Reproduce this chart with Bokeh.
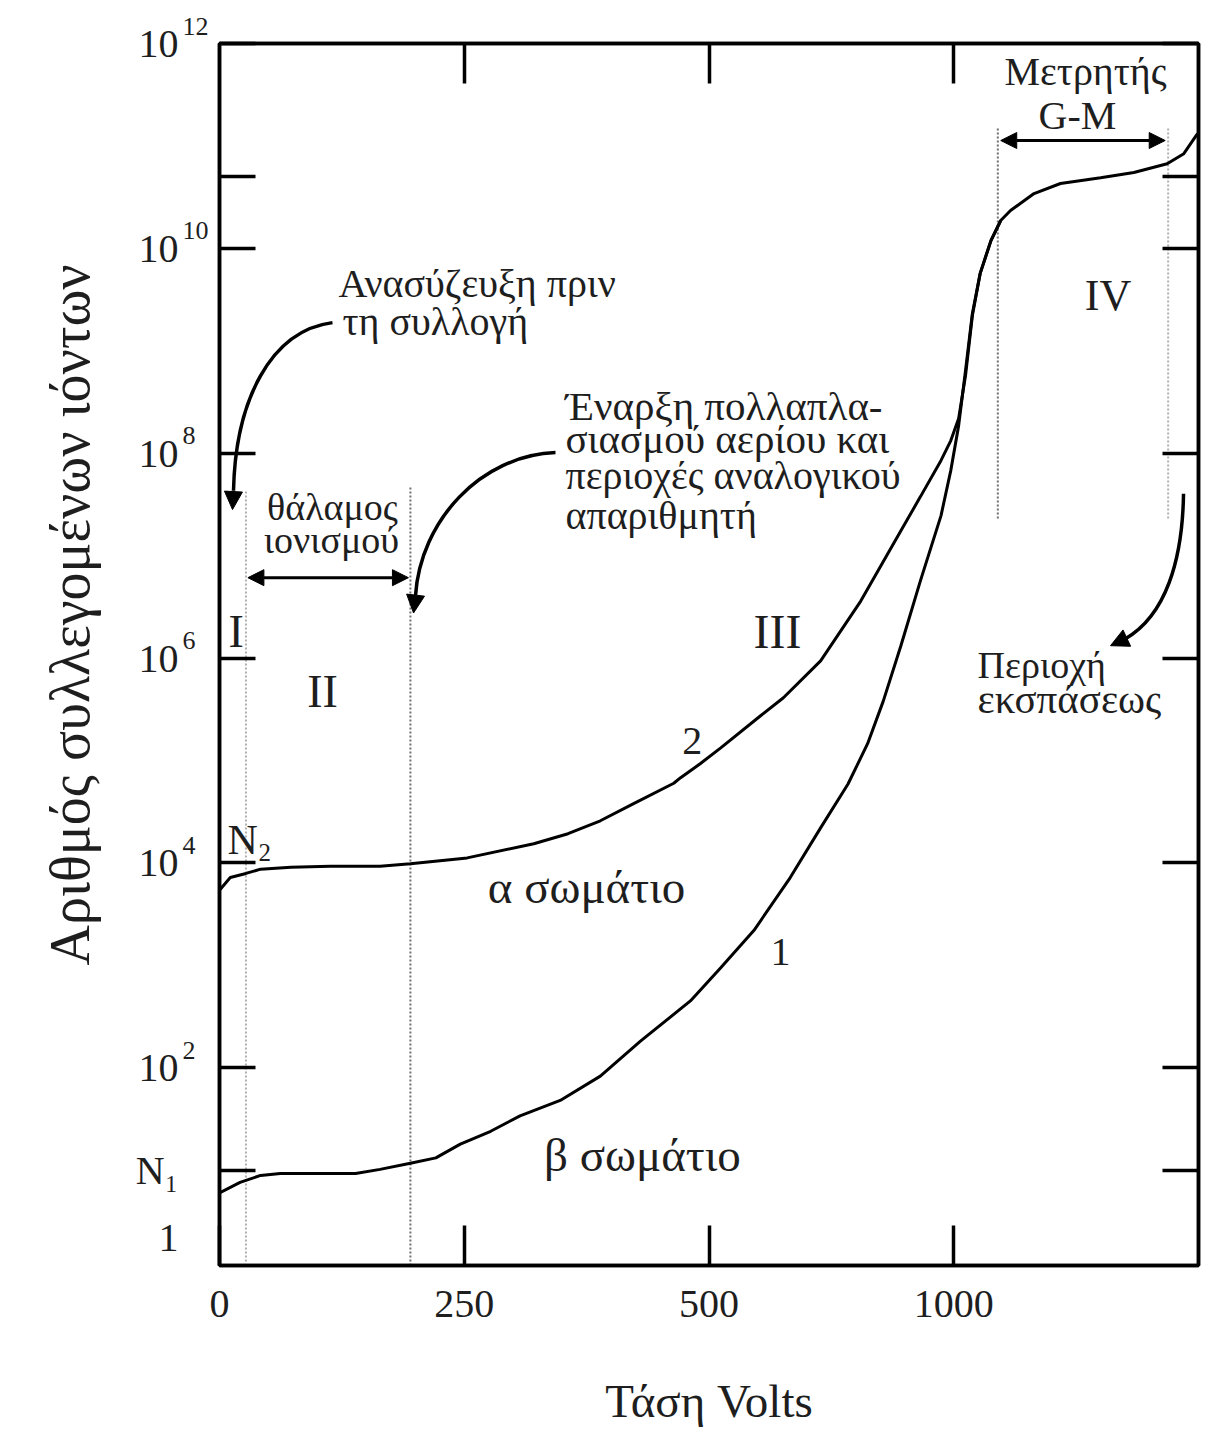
import math
from bokeh.plotting import figure
from bokeh.models import (Range1d, LogAxis, LinearAxis, FixedTicker, Label,
                          Arrow, NormalHead, Title)
from bokeh.embed import file_html
from bokeh.resources import INLINE

FONT = "Liberation Serif"
INK = "#1e1e1e"
NB = "\u00a0"

# ---------------- data ----------------
# curve 2 : alpha particles
alpha_volts = [0, 11, 27, 42, 73, 113, 164, 195, 253, 321, 356, 389, 423,
               464, 471, 491, 512, 553, 576, 614, 655, 696, 716, 737, 747,
               755, 762, 769, 777, 788, 798, 808, 832, 859, 900, 934, 968,
               985, 999]
alpha_ions = [5.4e3, 7.2e3, 7.9e3, 8.7e3, 9.1e3, 9.3e3, 9.3e3, 9.8e3, 1.12e4,
              1.54e4, 1.93e4, 2.58e4, 3.8e4, 6.0e4, 6.8e4, 9.3e4, 1.33e5,
              2.75e5, 4.1e5, 9.4e5, 3.6e6, 1.75e7, 3.77e7, 8.5e7, 1.33e8,
              2.18e8, 5.7e8, 2.2e9, 5.7e9, 1.19e10, 1.87e10, 2.34e10, 3.43e10,
              4.3e10, 4.9e10, 5.5e10, 6.7e10, 8.4e10, 1.32e11]

# curve 1 : beta particles
beta_volts = [0, 21, 42, 62, 113, 139, 164, 195, 221, 246, 277, 307, 348, 389,
              430, 481, 512, 546, 583, 614, 642, 662, 678, 696, 716, 737, 747,
              755, 762, 769, 777, 788, 798]
beta_ions = [6.0, 7.6, 8.9, 9.3, 9.3, 9.3, 10.2, 11.7, 13.2, 18, 24, 34, 48,
             83, 182, 450, 950, 2.2e3, 7.2e3, 2.2e4, 5.9e4, 1.46e5, 3.8e5,
             1.32e6, 5.7e6, 2.46e7, 6.8e7, 1.86e8, 6.4e8, 2.3e9, 5.7e9,
             1.19e10, 1.87e10]

# axes
x_ticks = [0, 250, 500, 750]
x_tick_labels = ["0", "250", "500", "1000"]
# mantissa column of the y labels ("10", plus N1 and the loose "1")
y_label_values = [2.19, 10, 100, 10 ** 4, 10 ** 6, 10 ** 8, 10 ** 10, 10 ** 12]
y_tick_labels = ["1", "N₁", "10", "10", "10", "10", "10", "10"]
# exponent column of the y labels
y_exp_values = [100, 10 ** 4, 10 ** 6, 10 ** 8, 10 ** 10, 10 ** 12]
y_exp_labels = ["2", "4", "6", "8", "10", "12"]
# tick marks of the y axis
y_tick_marks = [10, 100, 10 ** 4, 10 ** 6, 10 ** 8, 10 ** 10, 5 * 10 ** 10, 10 ** 12]

# region boundaries (dotted verticals)
boundary_volts = [27, 195, 795, 969]
boundary_bottom = [1.175, 1.175, 2.3e7, 2.3e7]
boundary_top = [4.3e7, 4.8e7, 1.5e11, 1.5e11]

# ---------------- figure ----------------
p = figure(title=None, frame_width=979, frame_height=1222,
           x_range=Range1d(0, 1000), y_range=Range1d(10 ** 0.07, 1e12),
           y_axis_type="log", output_backend="svg", toolbar_location=None,
           min_border_left=219, min_border_top=43, min_border_bottom=166,
           min_border_right=5)
p.xgrid.visible = False
p.ygrid.visible = False
p.outline_line_color = "black"
p.outline_line_width = 3.5
p.background_fill_color = "white"
p.border_fill_color = "white"


def style_axis(ax, tick_len, minor_len=0):
    ax.axis_line_color = "black"
    ax.axis_line_width = 3.5
    ax.major_tick_in = tick_len
    ax.major_tick_out = 0
    ax.minor_tick_in = minor_len
    ax.minor_tick_out = 0
    ax.major_tick_line_width = 3.5
    ax.minor_tick_line_width = 3.5
    ax.major_tick_line_color = "black" if tick_len else None
    ax.minor_tick_line_color = "black" if minor_len else None


# bottom axis
xa = p.xaxis[0]
xa.ticker = FixedTicker(ticks=x_ticks)
xa.major_label_overrides = {t: l for t, l in zip(x_ticks, x_tick_labels)}
style_axis(xa, 40)
xa.major_label_text_font = FONT
xa.major_label_text_font_size = "40px"
xa.major_label_text_color = INK
xa.major_label_standoff = 25
xa.axis_label = "Τάση Volts"
xa.axis_label_text_font = FONT
xa.axis_label_text_font_style = "normal"
xa.axis_label_text_font_size = "47px"
xa.axis_label_text_color = INK
xa.axis_label_standoff = 55

# left axis (next to the frame): tick marks + raised exponents
ya = p.yaxis[0]
ya.ticker = FixedTicker(ticks=y_exp_values, minor_ticks=y_tick_marks)
ya.major_label_overrides = {
    v: e + NB * (2 * (2 - len(e))) + "\n" + NB
    for v, e in zip(y_exp_values, y_exp_labels)}
style_axis(ya, 0, 36)
ya.major_label_text_font = FONT
ya.major_label_text_font_size = "26px"
ya.major_label_text_color = INK
ya.major_label_standoff = 11

# outer left axis: mantissas "10", N1 and 1
ya2 = LogAxis(ticker=FixedTicker(ticks=y_label_values),
              major_label_overrides={v: l for v, l in zip(y_label_values, y_tick_labels)},
              major_label_text_font=FONT, major_label_text_font_size="40px",
              major_label_text_color=INK, major_label_standoff=1)
style_axis(ya2, 0, 0)
ya2.axis_line_color = None
p.add_layout(ya2, "left")

# y title
p.add_layout(Title(text="Αριθμός συλλεγομένων ιόντων", align="left",
                   vertical_align="middle", offset=300, standoff=62,
                   text_font=FONT, text_font_size="56px",
                   text_font_style="normal", text_color=INK), "left")

# top / right axes : tick marks only
top = LinearAxis(ticker=FixedTicker(ticks=x_ticks[1:]),
                 major_label_text_color=None, major_label_text_font_size="1px",
                 major_label_standoff=0)
style_axis(top, 40)
p.add_layout(top, "above")
right = LogAxis(ticker=FixedTicker(ticks=y_tick_marks),
                major_label_text_color=None, major_label_text_font_size="1px",
                major_label_standoff=0)
style_axis(right, 36)
p.add_layout(right, "right")


def lab(x, y, text, size, align="left"):
    p.add_layout(Label(x=x, y=y, text=text, text_font=FONT,
                       text_font_size=f"{size}px", text_color=INK,
                       text_align=align, text_baseline="alphabetic",
                       y_offset=round(0.3 * size)))


# ---------------- marks ----------------
p.segment(x0=boundary_volts, y0=boundary_bottom, x1=boundary_volts,
          y1=boundary_top, line_dash="2 2", line_width=2,
          line_color=["#b0b0b0", "#707070", "#707070", "#b0b0b0"])

p.line(alpha_volts, alpha_ions, line_color="black", line_width=3)
p.line(beta_volts, beta_ions, line_color="black", line_width=3)

# double arrows
for xs, xe, yv in [(29, 193, 10 ** 6.785), (798, 966, 10 ** 11.053)]:
    p.add_layout(Arrow(x_start=xs, y_start=yv, x_end=xe, y_end=yv,
                       line_width=3, line_color="black",
                       start=NormalHead(size=16, fill_color="black", line_color="black"),
                       end=NormalHead(size=16, fill_color="black", line_color="black")))

# curved pointer arrows (bezier body + arrowhead)
curved = [
    # x0, y0, cx0, cy0, cx1, cy1, x1, y1, tipx, tipy
    (115.4, 10 ** 9.275, 52.1, 10 ** 9.197, 16.3, 10 ** 8.514, 14.3, 10 ** 7.635, 13.3, 10 ** 7.45),
    (343.2, 10 ** 8.006, 266.6, 10 ** 7.977, 205.3, 10 ** 7.342, 200.2, 10 ** 6.609, 198.2, 10 ** 6.44),
    (984.7, 10 ** 7.605, 983.7, 10 ** 6.951, 966.3, 10 ** 6.414, 925.4, 10 ** 6.189, 910.1, 10 ** 6.121),
]
for x0, y0, cx0, cy0, cx1, cy1, x1, y1, tx, ty in curved:
    p.bezier(x0=[x0], y0=[y0], cx0=[cx0], cy0=[cy0], cx1=[cx1], cy1=[cy1],
             x1=[x1], y1=[y1], line_color="black", line_width=3.5)
    p.add_layout(Arrow(x_start=x1, y_start=y1, x_end=tx, y_end=ty,
                       line_width=3.5, line_color="black", start=None,
                       end=NormalHead(size=18, fill_color="black", line_color="black")))

# ---------------- annotations ----------------
lab(121.6, 10 ** 9.539, "Ανασύζευξη πριν", 40)
lab(125.6, 10 ** 9.168, "τη συλλογή", 40)
lab(115.4, 10 ** 7.371, "θάλαμος", 38, align="center")
lab(114.4, 10 ** 7.049, "ιονισμού", 38, align="center")
lab(353.4, 10 ** 8.348, "Έναρξη  πολλαπλα-", 41)
lab(353.4, 10 ** 8.025, "σιασμού αερίου και", 41)
lab(353.4, 10 ** 7.664, "περιοχές αναλογικού", 40)
lab(353.4, 10 ** 7.273, "απαριθμητή", 40)
lab(884.6, 10 ** 11.609, "Μετρητής", 40, align="center")
lab(876.4, 10 ** 11.18, "G-M", 40, align="center")
lab(774.3, 10 ** 5.828, "Περιοχή", 38)
lab(774.3, 10 ** 5.486, "εκσπάσεως", 41)

lab(16.9, 10 ** 6.121, "I", 46, align="center")
lab(105.2, 10 ** 5.535, "II", 46, align="center")
lab(570, 10 ** 6.121, "III", 48, align="center")
lab(907.6, 10 ** 9.412, "IV", 44, align="center")

lab(483, 10 ** 5.076, "2", 40, align="center")
lab(573, 10 ** 3.016, "1", 40, align="center")
lab(8.2, 10 ** 4.1, "N", 42)
lab(39.8, 10 ** 4.02, "2", 25)
lab(374.9, 10 ** 3.631, "α σωμάτιο", 47, align="center")
lab(432, 10 ** 1.014, "β σωμάτιο", 47, align="center")

open("out.html", "w").write(file_html(p, INLINE))
